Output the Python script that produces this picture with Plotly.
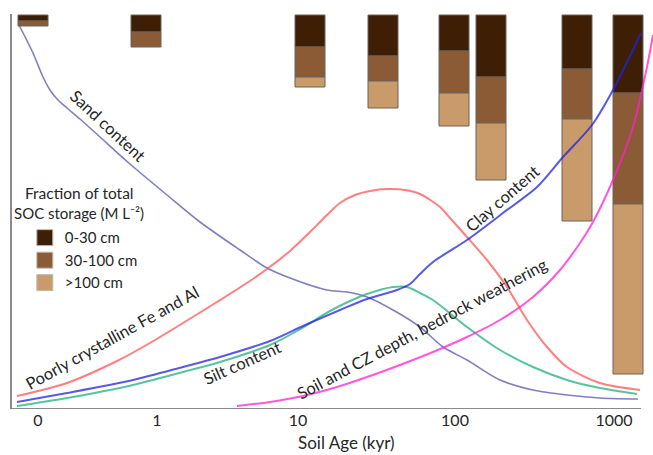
import plotly.graph_objects as go

# ---------------- data ----------------
# x axis: soil-age position (tick labels at the positions below)
tick_pos = [38, 157, 298, 455, 614]
tick_text = ["0", "1", "10", "100", "1000"]

# SOC storage bars (hang down from the top), depth-class fractions
bar_pos = [33, 146, 310, 383, 454, 491, 577, 628]
bar_top = 394
soc_0_30 = [6, 17, 32, 41, 36, 62, 54, 78]
soc_30_100 = [5, 15, 30, 25, 42, 46, 50, 111]
soc_gt100 = [None, None, 10, 27, 33, 57, 102, 170]

# conceptual curves (relative level)
sand_x = [19, 33, 43, 50, 58, 67, 80, 100, 130, 167, 200, 240, 267, 290, 327, 347, 367, 393, 420, 443, 467, 500, 533, 567, 600, 638]
sand_y = [384, 356, 332, 319, 309, 301, 290, 272, 245, 214, 187, 159, 141, 131, 119, 117, 112, 99, 82, 62, 49, 29, 19, 14, 11, 10]

feal_x = [17, 67, 117, 150, 183, 217, 250, 267, 290, 310, 327, 340, 355, 370, 387, 405, 420, 440, 450, 467, 487, 507, 527, 547, 567, 600, 640]
feal_y = [13, 26, 48, 66, 86, 107, 128, 140, 158, 177, 194, 206, 214, 218, 220, 219, 215, 202, 191, 172, 149, 122, 89, 62, 42, 26, 19]

clay_x = [17, 67, 133, 183, 220, 270, 303, 340, 367, 397, 410, 420, 433, 467, 503, 537, 563, 592, 613, 641]
clay_y = [7, 16, 29, 42, 52, 68, 83, 99, 110, 119, 125, 135, 147, 169, 196, 222, 252, 284, 319, 376]

silt_x = [17, 67, 133, 183, 220, 270, 297, 330, 350, 367, 393, 407, 420, 433, 467, 500, 533, 567, 600, 637]
silt_y = [3, 11, 24, 37, 47, 64, 78, 98, 108, 115, 122, 122, 116, 109, 82, 59, 42, 29, 21, 15]

depth_x = [237, 270, 303, 337, 370, 400, 433, 467, 500, 533, 560, 580, 593, 613, 633, 647, 653]
depth_y = [3, 7, 13, 22, 33, 44, 57, 72, 89, 112, 139, 166, 187, 229, 282, 342, 374]

legend_names = ["0-30 cm", "30-100 cm", ">100 cm"]

# ---------------- styles ----------------
FONT = "Lato"
TXT = "#262626"
c_dark, c_mid, c_light = "#3e1f06", "#8b5b36", "#c99b6b"

fig = go.Figure()

# stacked bars hanging from the top
base1 = [bar_top - a for a in soc_0_30]
base2 = [b - m for b, m in zip(base1, soc_30_100)]
base3 = [b - (l if l is not None else 0) for b, l in zip(base2, soc_gt100)]
for vals, base, col in [(soc_0_30, base1, c_dark), (soc_30_100, base2, c_mid), (soc_gt100, base3, c_light)]:
    fig.add_trace(go.Bar(x=bar_pos, y=vals, base=base, width=30, marker=dict(color=col, line=dict(color="#6f6258", width=1)),
                         showlegend=False, hoverinfo="skip"))

# legend entries
for name, col in zip(legend_names, [c_dark, c_mid, c_light]):
    fig.add_trace(go.Scatter(x=[None], y=[None], mode="markers", name=name,
                             marker=dict(symbol="square", size=20, color=col, line=dict(color="#bbbbbb", width=1))))

curves = [
    (sand_x, sand_y, "#5555aa", 1.6),
    (feal_x, feal_y, "#ff5555", 2),
    (silt_x, silt_y, "#20b080", 2),
    (clay_x, clay_y, "#2222dd", 2),
    (depth_x, depth_y, "#ff20d0", 2),
]
for xs, ys, col, w in curves:
    fig.add_trace(go.Scatter(x=xs, y=ys, mode="lines", opacity=0.75, showlegend=False,
                             line=dict(color=col, width=w, shape="spline", smoothing=0.8), hoverinfo="skip"))

labels = [
    ("Sand content", 108, 283, 43),
    ("Poorly crystalline Fe and Al", 112, 71, -29),
    ("Silt content", 242, 46, -24),
    ("Soil and CZ depth, bedrock weathering", 422, 80, -28),
    ("Clay content", 502, 210, -41),
]
for txt, x, y, ang in labels:
    fig.add_annotation(x=x, y=y, text=txt, textangle=ang, showarrow=False,
                       font=dict(family=FONT, size=16.5, color=TXT), xanchor="center", yanchor="middle")

fig.add_annotation(x=79, y=216, text="Fraction of total", showarrow=False, font=dict(family=FONT, size=15.5, color=TXT))
fig.add_annotation(x=79, y=196, text="SOC storage (M L⁻²)", showarrow=False, font=dict(family=FONT, size=15, color=TXT))

fig.add_annotation(x=346, xref="x", y=-0.084, yref="paper", text="Soil Age (kyr)", showarrow=False, yanchor="middle",
                   font=dict(family=FONT, size=17, color=TXT))

fig.add_shape(type="line", x0=12, x1=641, y0=0, y1=0, line=dict(color="#8a8a8a", width=2), layer="above")

fig.update_layout(
    width=653, height=455,
    margin=dict(l=12, r=0, t=14, b=46),
    paper_bgcolor="white", plot_bgcolor="white",
    barmode="overlay",
    font=dict(family=FONT, color=TXT),
    legend=dict(x=0.02, y=0.475, xanchor="left", yanchor="top", bgcolor="rgba(0,0,0,0)",
                font=dict(family=FONT, size=15, color=TXT), itemsizing="trace", tracegroupgap=0),
    xaxis=dict(range=[12, 653], showgrid=False, zeroline=False, showline=False,
               tickmode="array", tickvals=tick_pos, ticktext=tick_text, ticks="",
               tickfont=dict(family=FONT, size=16, color=TXT)),
    yaxis=dict(range=[0, 395], showgrid=False, zeroline=False, showline=True, linecolor="#8a8a8a", linewidth=2,
               showticklabels=False, ticks=""),
)

fig.write_html("out.html", config={"displayModeBar": False},
               post_script="document.body.style.margin='0px';")
